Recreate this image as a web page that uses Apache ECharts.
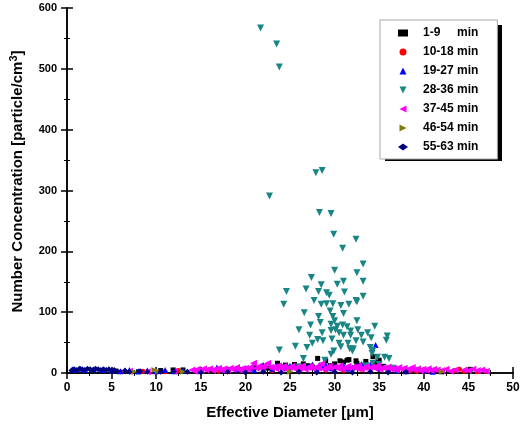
<!DOCTYPE html>
<html><head><meta charset="utf-8">
<script src="https://cdn.jsdelivr.net/npm/echarts@6/dist/echarts.min.js"></script>
<style>html,body{margin:0;padding:0;background:#fff}#c{width:525px;height:427px}</style>
</head><body><div id="c"></div>
<script>
const seriesNames = ['1-9     min','10-18 min','19-27 min','28-36 min','37-45 min','46-54 min','55-63 min'];
const xTicks = [0,5,10,15,20,25,30,35,40,45,50];
const yTicks = [0,100,200,300,400,500,600];

const s1_9 = [[5.5,3],[8,2],[10.5,4],[11.9,5],[13,5],[14.5,3],[16,4],[18,6],[19.6,6],[20.5,7],[21,9],[22,11],[22.5,8],[23.6,16],[24,10],[24.5,13],[25,9],[25.5,14],[26,11],[26.5,15],[27,12],[27.5,10],[28.1,24],[28.5,13],[29,20],[29.5,12],[30,15],[30.6,20],[31,18],[31.4,21],[31.6,22],[32.4,20],[32.5,16],[33,12],[33.5,19],[34.3,27],[34.5,15],[34.8,18],[35,21],[35.5,11],[36,8],[37,6],[38,4],[39,5],[40,3],[41,4],[42,2],[43.5,3],[45.2,6]];
const s10_18 = [[6,2],[8.5,3],[11,2],[12.5,4],[17,3],[20,2],[23,4],[26,3],[29,5],[31,4],[33,6],[36,3],[38.5,4],[39.2,3],[40,2],[43.5,4],[44,6],[44.5,3],[46,2],[47,3]];
const s19_27 = [[0.6,6],[0.9,5],[1.5,7],[2,5],[3,6],[4,5],[5,4],[6,3],[7,5],[8,3],[9,4],[10,3],[11,5],[12,3],[13,4],[15,4],[16.8,9],[17.5,5],[19,6],[20,8],[21,5],[22,13],[23,7],[23.5,11],[24.5,8],[25,12],[26,9],[27,11],[27.5,14],[28,7],[28.6,10],[29,13],[29.6,8],[30,10],[31,12],[31.5,7],[32,9],[32.7,11],[33,15],[34,14],[34.6,46],[35,8],[35.6,10],[36,6],[37,4],[38,3],[40,4],[41,2]];
const s28_36 = [[21.7,567],[23.5,541],[23.8,503],[27.9,329],[28.6,333],[22.7,291],[28.3,264],[29.6,262],[29.9,228],[32.4,220],[30.9,205],[33.2,179],[30.0,169],[32.5,165],[27.4,157],[33.2,151],[31.0,151],[30.3,146],[28.5,145],[26.8,138],[24.6,134],[29.1,132],[28.2,134],[29.4,128],[31.1,133],[33.2,126],[32.4,119],[27.7,119],[24.3,113],[28.5,113],[29.1,114],[29.8,114],[30.7,111],[31.6,113],[32.5,117],[29.5,102],[26.6,99],[31.0,98],[28.2,93],[29.8,93],[28.4,83],[27.3,79],[32.5,86],[29.6,80],[30.0,86],[30.3,77],[30.9,79],[31.4,76],[34.5,77],[26.0,71],[29.6,70],[30.1,71],[30.5,66],[31.8,69],[32.6,71],[33.7,66],[27.2,62],[28.6,66],[31.0,62],[31.8,62],[33.0,62],[35.9,61],[35.8,54],[28.1,55],[28.7,53],[29.7,56],[30.5,49],[31.5,49],[32.4,53],[33.2,51],[34.1,58],[25.6,44],[26.9,42],[27.5,49],[30.7,43],[31.7,40],[32.1,40],[34.0,42],[34.3,37],[23.8,38],[29.9,36],[29.6,31],[32.0,36],[34.8,26],[35.6,26],[36.1,24],[26.5,24],[28.9,21],[34.2,32],[34.3,16],[24.5,8],[26,10],[33.5,12],[35,14],[36.5,8],[37,5],[22,5]];
const s37_45 = [[7,3],[9,2],[12,3],[14,5],[14.3,3],[14.6,6],[15,4],[15.3,7],[15.6,5],[16,7],[16.3,4],[16.6,6],[17,8],[17.3,5],[17.6,7],[18,5],[18.3,8],[18.6,6],[19,9],[19.3,5],[19.6,7],[20,8],[20.3,6],[20.6,10],[20.9,16],[21.2,8],[21.5,11],[21.8,7],[22.1,12],[22.5,16],[22.8,9],[23.1,10],[23.4,7],[23.7,12],[24,8],[24.3,11],[24.6,6],[24.9,9],[25.2,11],[25.5,7],[25.8,10],[26.1,8],[26.4,12],[26.7,6],[27,9],[27.3,11],[27.6,7],[27.9,10],[28.2,8],[28.5,15],[28.8,6],[29.1,9],[29.4,11],[29.7,7],[30,10],[30.3,8],[30.6,12],[30.9,6],[31.2,9],[31.5,11],[31.8,7],[32.1,10],[32.4,8],[32.7,12],[33,6],[33.3,9],[33.6,11],[33.9,7],[34.2,10],[34.5,8],[34.8,12],[35.1,6],[35.4,9],[35.7,7],[36,10],[36.3,6],[36.6,8],[36.9,5],[37.2,9],[37.5,6],[37.8,8],[38.1,5],[38.4,7],[38.7,9],[39,5],[39.3,7],[39.6,4],[39.9,6],[40.2,5],[40.5,7],[40.8,4],[41.1,6],[41.5,5],[42,4],[42.5,6],[43,3],[43.5,5],[44.5,5],[45,4],[45.5,6],[46,4],[46.5,5],[47,3]];
const s46_54 = [[9.8,5],[10.2,3],[7.5,2],[42,2],[13,2],[25,2]];
const s55_63 = [[0.5,4],[0.8,6],[1.1,5],[1.4,7],[1.7,6],[2,5],[2.3,7],[2.6,6],[2.9,5],[3.2,7],[3.5,6],[3.8,5],[4.1,6],[4.4,5],[4.7,6],[5,4],[5.3,5],[5.6,3],[6.5,4],[7,2],[8.2,3],[9,2],[10.5,2],[12,3],[13.5,2],[15,1],[18,2],[20,1],[22,2],[24,1],[26,2],[28,1],[30,2],[32,1],[34,2],[36,1],[38,2]];

const seriesData = [s1_9, s10_18, s19_27, s28_36, s37_45, s46_54, s55_63];
const colors = ['#000000','#ff0000','#0000ff','#1a8585','#ff00ff','#808000','#000080'];
const symbols = ['rect','circle','path://M5,0 L10,10 L0,10 Z','path://M0,0 L10,0 L5,10 Z','path://M0,5 L10,0 L10,10 Z','path://M0,0 L10,5 L0,10 Z','diamond'];
const sizes = [5,5,6,7,7,6,6];

const font = 'Liberation Sans, Arial, sans-serif';
const chart = echarts.init(document.getElementById('c'));
const axisCommon = {
  axisLine:{show:true,lineStyle:{color:'#000',width:1.5}},
  axisTick:{show:true,inside:true,length:6,lineStyle:{color:'#000',width:1.5}},
  minorTick:{show:true,splitNumber:2,length:3,lineStyle:{color:'#000',width:1}},
  splitLine:{show:false}
};
chart.setOption({
  animation:false,
  grid:{left:67,right:12,top:8,bottom:54,containLabel:false,outerBoundsMode:'none'},
  graphic:[{type:'rect',left:385,top:25,z:-1,shape:{width:117,height:136},style:{fill:'#000'}}],
  legend:{
    orient:'vertical',left:380,top:20,z:5,
    data:seriesNames,
    itemWidth:10,itemHeight:7,itemGap:5,
    padding:[6,19,5,18],
    backgroundColor:'#fff',borderColor:'#aaa',borderWidth:1,
    textStyle:{fontFamily:font,fontWeight:'bold',fontSize:12,color:'#000',lineHeight:14,padding:[0,0,0,10]}
  },
  xAxis:[
    Object.assign({type:'value',min:0,max:50,interval:5,position:'bottom',
      name:'Effective Diameter [\u03bcm]',nameLocation:'middle',nameGap:32,
      nameTextStyle:{fontFamily:font,fontWeight:'bold',fontSize:15,color:'#000'},
      axisLabel:{fontFamily:font,fontWeight:'bold',fontSize:12,color:'#000',margin:9}},axisCommon),
    Object.assign({type:'value',min:0,max:50,interval:5,position:'top',axisLabel:{show:false}},axisCommon)
  ],
  yAxis:[
    Object.assign({type:'value',min:0,max:600,interval:100,position:'left',
      name:'Number Concentration [particle/cm{s|3}]',nameLocation:'middle',nameGap:39,
      nameTextStyle:{fontFamily:font,fontWeight:'bold',fontSize:15,color:'#000',padding:[0,0,0,18],
        rich:{s:{fontFamily:font,fontWeight:'bold',fontSize:11,color:'#000',padding:[0,0,9,0]}}},
      axisLabel:{fontFamily:font,fontWeight:'bold',fontSize:11,color:'#000',margin:10}},axisCommon),
    Object.assign({type:'value',min:0,max:600,interval:100,position:'right',axisLabel:{show:false}},axisCommon)
  ],
  series: seriesNames.map((n,i)=>({
    name:n,type:'scatter',data:seriesData[i],symbol:symbols[i],symbolSize:sizes[i],
    itemStyle:{color:colors[i],opacity:1},xAxisIndex:0,yAxisIndex:0
  }))
});
</script></body></html>
